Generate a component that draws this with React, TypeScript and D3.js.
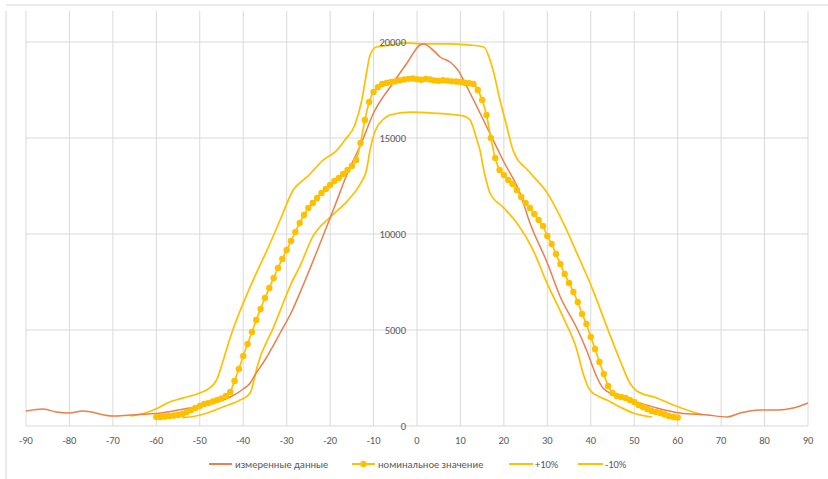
import React from "react";
import * as d3 from "d3";

// ---- Data ----
const xTicks = [-90, -80, -70, -60, -50, -40, -30, -20, -10, 0, 10, 20, 30, 40, 50, 60, 70, 80, 90];
const yTicks = [0, 5000, 10000, 15000, 20000];

const legendLabels = ["измеренные данные", "номинальное значение", "+10%", "-10%"];

// measured data (измеренные данные)
const measuredX = [-90, -86, -83, -80, -77, -75, -72, -70, -66, -62, -59, -55, -50, -46, -43, -40, -38.4, -37.3, -35, -31.5, -29, -26, -22, -19, -16, -13, -10, -5.5, -2.3, 0.7, 1.5, 3.7, 5.3, 7.6, 9.4, 11.5, 14.5, 17.5, 20, 23.7, 26, 30, 33, 37, 39, 41.4, 42.8, 46.7, 51.3, 55.2, 60.5, 66.8, 71.4, 74.4, 79, 83, 86.6, 90];
const measuredY = [781, 885, 729, 677, 781, 729, 573, 521, 573, 625, 677, 833, 1042, 1250, 1510, 1927, 2240, 2656, 3437, 4844, 5885, 7448, 9687, 11406, 13177, 14635, 16300, 17864, 18906, 19843, 19900, 19580, 19220, 18960, 18540, 17655, 16300, 14900, 13750, 12135, 10570, 8490, 6720, 5000, 3960, 2550, 1980, 1510, 1198, 937, 677, 573, 469, 677, 833, 833, 937, 1198];

// nominal value (номинальное значение), x = -60 ... 60 step 1
const nominalX = d3.range(-60, 61, 1);
const nominalY = [
  469, 469, 495, 521, 547, 573, 625, 729, 833, 937, // -60..-51
  1042, 1146, 1198, 1276, 1354, 1432, 1562, 1770, 2344, 2969, // -50..-41
  3646, 4271, 4896, 5521, 6094, 6667, 7187, 7708, 8229, 8698, // -40..-31
  9167, 9635, 10104, 10573, 10990, 11354, 11615, 11875, 12135, 12343, // -30..-21
  12552, 12760, 12917, 13125, 13333, 13541, 13854, 14740, 15937, 16875, // -20..-11
  17400, 17650, 17810, 17870, 17920, 17950, 18000, 18050, 18080, 18100, // -10..-1
  18060, 18030, 18080, 18050, 18000, 17980, 18010, 17990, 17950, 17940, // 0..9
  17920, 17880, 17850, 17810, 17500, 16980, 16200, 15000, 13958, 13333, // 10..19
  13073, 12812, 12604, 12292, 11927, 11615, 11354, 11042, 10729, 10417, // 20..29
  9896, 9479, 8958, 8437, 7917, 7448, 6979, 6458, 5833, 5312, // 30..39
  4635, 4010, 3333, 2708, 2083, 1719, 1562, 1510, 1458, 1354, // 40..49
  1250, 1094, 990, 885, 781, 729, 677, 599, 521, 469, // 50..59
  443 // 60
];

// +10%
const plusX = [-66, -63, -60, -57.5, -54, -50, -47.7, -46, -44.7, -43, -42.4, -40, -39, -36.5, -34.5, -31.5, -28.5, -25.3, -21.6, -18.4, -16.6, -14.3, -12.7, -11.7, -10.8, -9.4, -6.2, -2.3, 0.7, 6.4, 12.2, 15.4, 16.8, 17.5, 19.1, 20.7, 22.1, 26, 30, 33, 37.5, 40.5, 43.7, 46.7, 49, 50.6, 55.2, 59, 63.5, 65.8];
const plusY = [520, 650, 900, 1200, 1450, 1720, 1980, 2450, 3350, 4600, 5000, 6400, 6930, 8200, 9170, 10730, 12290, 12970, 13850, 14370, 14900, 15680, 16980, 18280, 19320, 19740, 19840, 19950, 19900, 19900, 19840, 19740, 19060, 18540, 16980, 15570, 14370, 13200, 12130, 10890, 8645, 7080, 5160, 3440, 2240, 1820, 1460, 1094, 730, 570];

// -10%
const minusX = [-54, -52.3, -48.3, -44.7, -40.7, -38.4, -37.5, -36.8, -33.1, -31.5, -29.2, -27, -23.9, -20, -16.1, -13.1, -11.7, -10.8, -9.9, -9, -8.1, -6.2, -1.6, 3.7, 10.6, 12.2, 12.9, 13.8, 14.5, 15.3, 16.2, 16.8, 19.8, 23, 26.7, 29.9, 33.6, 36.8, 38.2, 39.8, 42.1, 43.7, 46.7, 49.7, 54.1];
const minusY = [440, 470, 680, 990, 1350, 1720, 2400, 3070, 5100, 6000, 7300, 8300, 9900, 10880, 11700, 12600, 13270, 14370, 15190, 15660, 15900, 16200, 16350, 16300, 16150, 15940, 15570, 14900, 14370, 13400, 12560, 12135, 11400, 10570, 9170, 7450, 5680, 3960, 2760, 1875, 1510, 1350, 990, 680, 470];

const ORANGE = "#EB7F4A";
const YELLOW = "#FFC000";

export default function App() {
  const W = 828, H = 479;
  const x = d3.scaleLinear().domain([-90, 90]).range([26, 808]);
  const y = d3.scaleLinear().domain([0, 20000]).range([426, 42]);
  const plotTop = 11;

  const line = d3.line<[number, number]>()
    .x(d => x(d[0]))
    .y(d => y(d[1]))
    .curve(d3.curveMonotoneX);

  const measured = measuredX.map((v, i) => [v, measuredY[i]] as [number, number]);
  const nominal = nominalX.map((v, i) => [v, nominalY[i]] as [number, number]);
  const plus = plusX.map((v, i) => [v, plusY[i]] as [number, number]);
  const minus = minusX.map((v, i) => [v, minusY[i]] as [number, number]);

  const font = "Carlito, Calibri, 'Liberation Sans', Arial, sans-serif";
  const legendY = 464;

  return (
    <svg width={W} height={H} style={{ position: "absolute", left: 0, top: 0, background: "#fff" }}>
      <rect x={0} y={0} width={W} height={H} fill="#fff" />
      {/* frame */}
      <line x1={6} x2={W} y1={5} y2={5} stroke="#E4E4E4" strokeWidth={1.5} />
      <line x1={6} x2={6} y1={11} y2={H} stroke="#E4E4E4" strokeWidth={1.5} />

      {/* gridlines */}
      {xTicks.map(t => (
        <line key={"vx" + t} x1={x(t)} x2={x(t)} y1={plotTop} y2={y(0)} stroke="#D9D9D9" strokeWidth={1} />
      ))}
      {yTicks.map(t => (
        <line key={"hy" + t} x1={x(-90)} x2={x(90)} y1={y(t)} y2={y(t)} stroke="#D9D9D9" strokeWidth={1} />
      ))}

      {/* series */}
      <path d={line(plus) || ""} fill="none" stroke={YELLOW} strokeWidth={1.7} />
      <path d={line(minus) || ""} fill="none" stroke={YELLOW} strokeWidth={1.7} />
      <path d={line(measured) || ""} fill="none" stroke={ORANGE} strokeWidth={1.5} />
      <path d={line(nominal) || ""} fill="none" stroke={YELLOW} strokeWidth={1.7} />
      {nominal.map((d, i) => (
        <circle key={"n" + i} cx={x(d[0])} cy={y(d[1])} r={3.2} fill={YELLOW} />
      ))}

      {/* x tick labels */}
      {xTicks.map(t => (
        <text key={"xl" + t} x={x(t)} y={444} textAnchor="middle" fontFamily={font} fontSize={10.5} fill="#595959">{t}</text>
      ))}
      {/* y tick labels */}
      {yTicks.map(t => (
        <text key={"yl" + t} x={406} y={y(t) + 3.5} textAnchor="end" fontFamily={font} fontSize={10.5} fill="#595959">{t}</text>
      ))}

      {/* legend */}
      <g fontFamily={font} fontSize={10.5} fill="#595959">
        <line x1={209} x2={232} y1={legendY} y2={legendY} stroke={ORANGE} strokeWidth={2} />
        <text x={235} y={legendY + 3.5}>{legendLabels[0]}</text>
        <line x1={352} x2={375} y1={legendY} y2={legendY} stroke={YELLOW} strokeWidth={2} />
        <circle cx={363.5} cy={legendY} r={3.2} fill={YELLOW} />
        <text x={378} y={legendY + 3.5}>{legendLabels[1]}</text>
        <line x1={509} x2={533} y1={legendY} y2={legendY} stroke={YELLOW} strokeWidth={2} />
        <text x={535} y={legendY + 3.5}>{legendLabels[2]}</text>
        <line x1={578} x2={603} y1={legendY} y2={legendY} stroke={YELLOW} strokeWidth={2} />
        <text x={605} y={legendY + 3.5}>{legendLabels[3]}</text>
      </g>
    </svg>
  );
}
